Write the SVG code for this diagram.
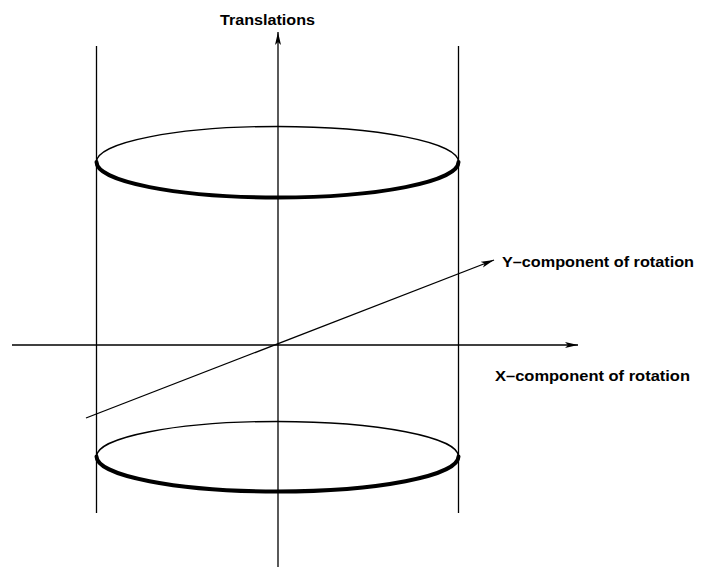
<svg xmlns="http://www.w3.org/2000/svg" width="702" height="570" viewBox="0 0 702 570">
<style>
.ln{stroke:#000;stroke-width:1.3;fill:none}
.thk{stroke:#000;stroke-width:4;fill:none;stroke-linecap:round}
.lbl{font-family:"Liberation Sans",Arial,sans-serif;font-weight:bold;font-size:14px;fill:#000}
</style>
<defs>
<marker id="arr" markerWidth="14" markerHeight="8" refX="13" refY="4" orient="auto" markerUnits="userSpaceOnUse">
<path d="M0,1 L13,4 L0,7 L3,4 Z" fill="#000"/>
</marker>
</defs>
<g id="connectors">
<line class="ln" x1="278" y1="567" x2="278" y2="32" marker-end="url(#arr)"/>
<line class="ln" x1="12" y1="345" x2="578" y2="345" marker-end="url(#arr)"/>
<line class="ln" x1="86" y1="418" x2="494" y2="260" marker-end="url(#arr)"/>
</g>
<g id="cylinder-left"><line class="ln" x1="96.5" y1="46" x2="96.5" y2="513"/></g>
<g id="cylinder-right"><line class="ln" x1="458.5" y1="46" x2="458.5" y2="513"/></g>
<g id="top-ellipse">
<ellipse class="ln" cx="277.5" cy="162" rx="181" ry="35.5"/>
<path class="thk" d="M96.5,162 A181,35.5 0 0 0 458.5,162"/>
</g>
<g id="bottom-ellipse">
<ellipse class="ln" cx="277.5" cy="456.5" rx="181" ry="35"/>
<path class="thk" d="M96.5,456.5 A181,35 0 0 0 458.5,456.5"/>
</g>
<g id="labels">
<text class="lbl" x="220" y="25" textLength="95" lengthAdjust="spacingAndGlyphs">Translations</text>
<text class="lbl" x="502" y="267" textLength="192" lengthAdjust="spacingAndGlyphs">Y–component of rotation</text>
<text class="lbl" x="495" y="381" textLength="195" lengthAdjust="spacingAndGlyphs">X–component of rotation</text>
</g>
</svg>
